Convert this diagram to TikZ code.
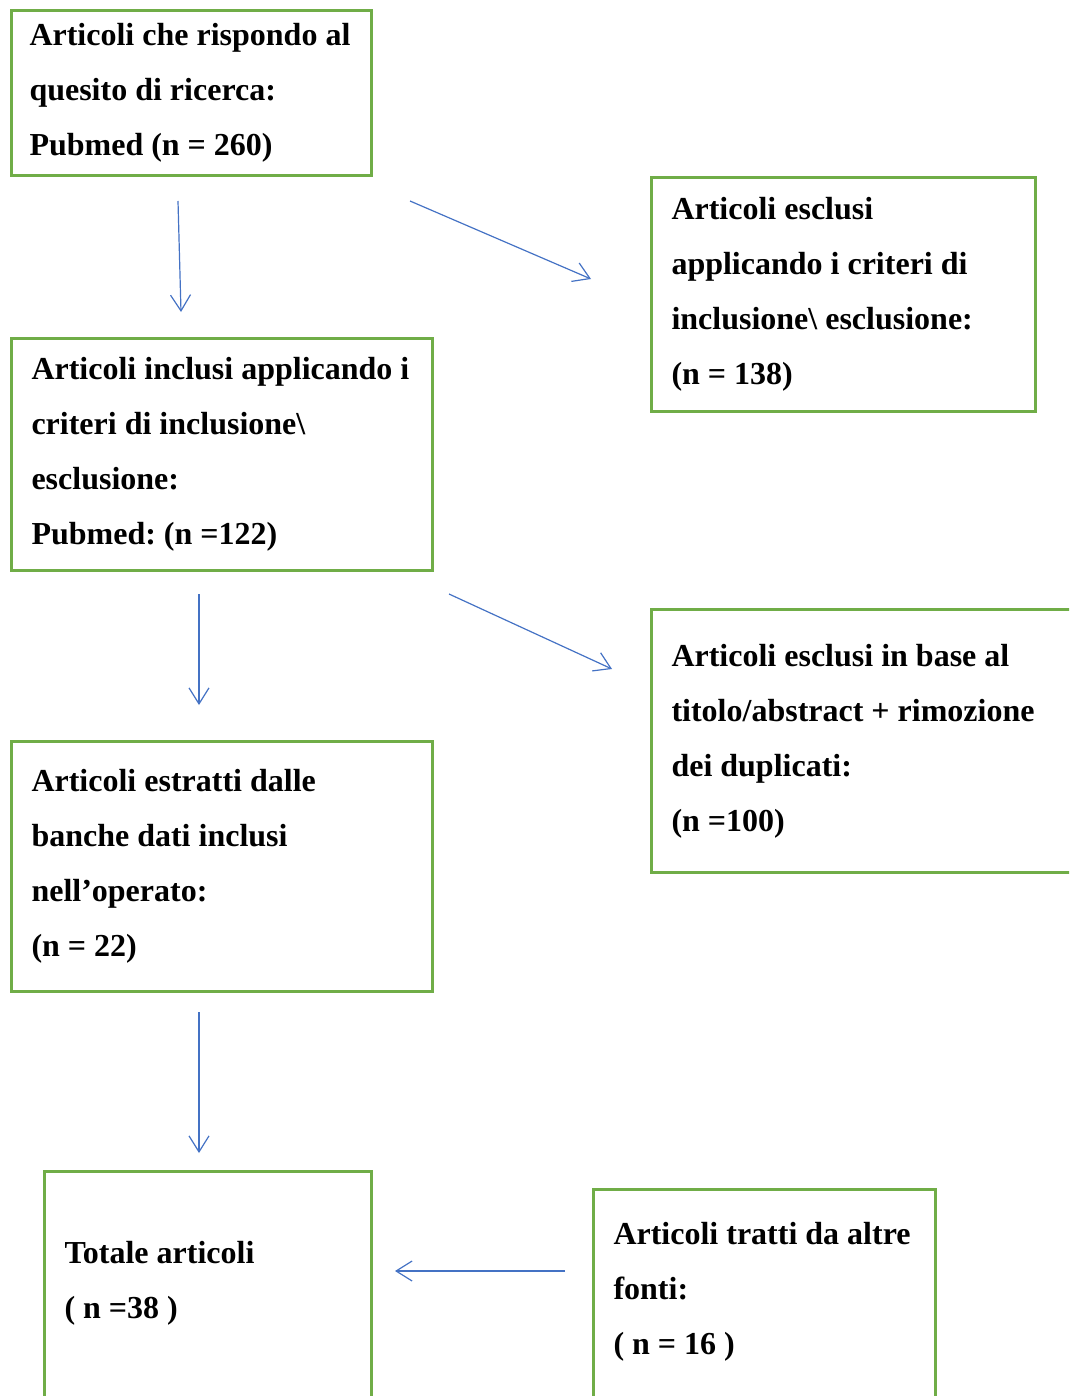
\documentclass[tikz,border=0pt]{standalone}
\usepackage{fontspec}
\setmainfont{Liberation Serif}
\usetikzlibrary{positioning, arrows.meta, calc}
\definecolor{boxgreen}{HTML}{70AD47}
\definecolor{flowblue}{HTML}{4472C4}
\newcommand\boxfont{\fontsize{32}{55}\selectfont\bfseries\frenchspacing}

\begin{document}
\begin{tikzpicture}[
  x=1pt, y=-1pt,
  font=\boxfont, >={Straight Barb[length=16pt, width=20pt]},
  box/.style={draw=boxgreen, line width=3pt, align=flush left, inner xsep=20pt, inner ysep=6pt},
  flow/.style={->, line width=1.2pt, flowblue},
]
\useasboundingbox (0,0) rectangle (1069,1396);
\clip (0,0) rectangle (1069,1396);
% ---- left column ----
\node[box, anchor=north west, inner xsep=18pt, text width=324pt, minimum height=165pt] (query) at (10,9)
  {Articoli che rispondo al\\ quesito di ricerca:\\ Pubmed (n = 260)};
\node[box, below right=160pt and 0pt of query.south west, text width=381pt, minimum height=232pt] (incl)
  {Articoli inclusi applicando i\\ criteri di inclusione\textbackslash\\ esclusione:\\ Pubmed: (n =122)};
\node[box, below right=168pt and 0pt of incl.south west, text width=381pt, minimum height=250pt] (extr)
  {Articoli estratti dalle\\ banche dati inclusi\\ nell’operato:\\ (n = 22)};
\node[box, below right=177pt and 33pt of extr.south west, text width=287pt, minimum height=271pt] (totale)
  {Totale articoli\\ ( n =38 )\\ \mbox{}};
% ---- right column ----
\node[box, below right=167pt and 277pt of query.north east, text width=344pt, minimum height=234pt] (excla)
  {Articoli esclusi\\ applicando i criteri di\\ inclusione\textbackslash{} esclusione:\\ (n = 138)};
\node[box, below right=195pt and 0pt of excla.south west, text width=407pt, minimum height=263pt] (exclb)
  {Articoli esclusi in base al\\ titolo/abstract + rimozione\\ dei duplicati:\\ (n =100)};
\node[box, below right=18pt and 219pt of totale.north east, text width=302pt, minimum height=252pt] (altre)
  {Articoli tratti da altre\\ fonti:\\ ( n = 16 )\\ \mbox{}};
% ---- arrows ----
\draw[flow] ($(query.south)+(-13.5,24)$) -- ($(incl.north)+(-41,-25)$);
\draw[flow] ($(query.south east)+(37,24)$) -- ($(excla.north west)+(-59,103)$);
\draw[flow] ($(incl.south)+(-23,22)$) -- ($(extr.north)+(-23,-35)$);
\draw[flow] ($(incl.south east)+(15,22)$) -- ($(exclb.north west)+(-38,61)$);
\draw[flow] ($(extr.south)+(-23,19)$) -- ($(totale.north)+(-9,-17)$);
\draw[flow] ($(altre.north west)+(-27,83)$) -- ($(totale.north east)+(22,101)$);
\end{tikzpicture}
\end{document}
